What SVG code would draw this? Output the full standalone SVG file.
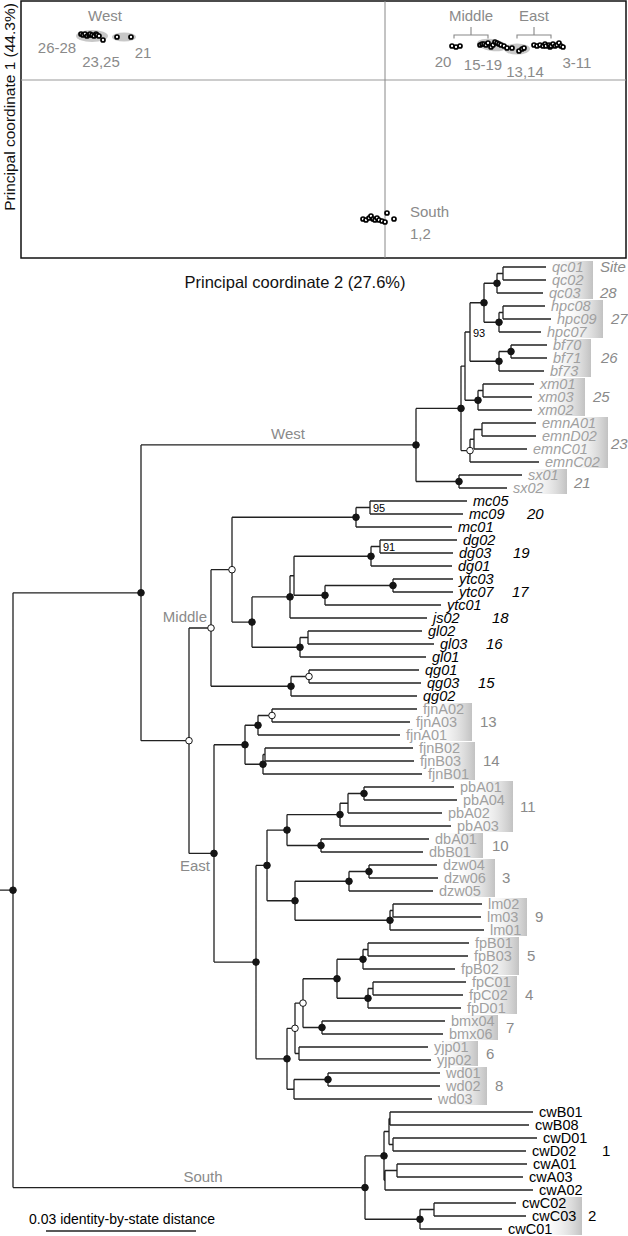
<svg xmlns="http://www.w3.org/2000/svg" width="628" height="1236" viewBox="0 0 628 1236">
<style>
text{font-family:"Liberation Sans",Arial,sans-serif}
.lbl{font-size:15px;fill:#8a8a8a}
.ax{font-size:16.5px;fill:#111}
.pt{fill:#fff;stroke:#000;stroke-width:1.7}
.blob{fill:#c8c8c8}
.br{fill:none;stroke:#888;stroke-width:1.1}
.tr{fill:none;stroke:#222;stroke-width:1.3}
.nf{fill:#151515;stroke:#151515;stroke-width:1}
.no{fill:#fff;stroke:#151515;stroke-width:1}
.lw{font-size:14.5px;fill:#a0a0a0;font-style:italic}
.lm{font-size:14.5px;fill:#000;font-style:italic}
.le{font-size:14.5px;fill:#a0a0a0}
.ls{font-size:14.5px;fill:#000}
.sw{font-size:15px;fill:#8a8a8a;font-style:italic}
.sm{font-size:15px;fill:#000;font-style:italic}
.se{font-size:15px;fill:#8a8a8a}
.ss{font-size:15px;fill:#000}
.bs{font-size:11px;fill:#000}
.cl{font-size:15px;fill:#8a8a8a}
.gb{fill:url(#gg)}
</style>
<defs>
<linearGradient id="gg" x1="0" y1="0" x2="1" y2="0">
<stop offset="0" stop-color="#fff" stop-opacity="0"/>
<stop offset="1" stop-color="#c2c2c2"/>
</linearGradient>
</defs>

<g id="pcoa">
<rect x="21" y="1" width="605" height="257" fill="none" stroke="#111" stroke-width="1.5"/>
<line x1="21" y1="80" x2="626" y2="80" stroke="#999" stroke-width="1"/>
<line x1="385" y1="1" x2="385" y2="258" stroke="#888" stroke-width="1"/>
<text class="ax" transform="translate(15,107) rotate(-90)" text-anchor="middle" style="font-size:15.5px">Principal coordinate 1 (44.3%)</text>
<text class="ax" x="295" y="288" text-anchor="middle">Principal coordinate 2 (27.6%)</text>
<g id="pc-west">
<ellipse class="blob" cx="92" cy="36" rx="16" ry="6"/>
<ellipse class="blob" cx="124" cy="37" rx="12" ry="4.5"/>
<circle class="pt" cx="81" cy="34" r="2"/><circle class="pt" cx="83" cy="35" r="2"/><circle class="pt" cx="85" cy="34" r="2"/><circle class="pt" cx="87" cy="36" r="2"/><circle class="pt" cx="89" cy="35" r="2"/><circle class="pt" cx="90" cy="34" r="2"/><circle class="pt" cx="92" cy="35" r="2"/><circle class="pt" cx="94" cy="36" r="2"/><circle class="pt" cx="96" cy="34" r="2"/><circle class="pt" cx="97" cy="35" r="2"/><circle class="pt" cx="99" cy="36" r="2"/><circle class="pt" cx="103" cy="40" r="2"/><circle class="pt" cx="117" cy="37" r="2"/><circle class="pt" cx="131" cy="37" r="2"/>
<text class="lbl" x="105" y="21" text-anchor="middle">West</text>
<text class="lbl" x="57" y="53" text-anchor="middle">26-28</text>
<text class="lbl" x="101" y="67" text-anchor="middle">23,25</text>
<text class="lbl" x="143" y="58" text-anchor="middle">21</text>
</g>
<g id="pc-east">
<ellipse class="blob" cx="492" cy="45" rx="15" ry="6" transform="rotate(8 492 45)"/>
<ellipse class="blob" cx="517" cy="49" rx="13" ry="5.5"/>
<circle class="pt" cx="452" cy="46" r="2"/><circle class="pt" cx="456" cy="47" r="2"/><circle class="pt" cx="460" cy="46" r="2"/>
<circle class="pt" cx="480" cy="45" r="2"/><circle class="pt" cx="482" cy="44" r="2"/><circle class="pt" cx="484" cy="44" r="2"/><circle class="pt" cx="486" cy="45" r="2"/><circle class="pt" cx="488" cy="43" r="2"/><circle class="pt" cx="491" cy="47" r="2"/><circle class="pt" cx="493" cy="45" r="2"/><circle class="pt" cx="495" cy="42" r="2"/><circle class="pt" cx="497" cy="43" r="2"/><circle class="pt" cx="499" cy="44" r="2"/><circle class="pt" cx="501" cy="45" r="2"/><circle class="pt" cx="504" cy="46" r="2"/>
<circle class="pt" cx="507" cy="48" r="2"/><circle class="pt" cx="512" cy="48" r="2"/><circle class="pt" cx="519" cy="51" r="2"/><circle class="pt" cx="522" cy="49" r="2"/><circle class="pt" cx="524" cy="48" r="2"/>
<circle class="pt" cx="534" cy="45" r="2"/><circle class="pt" cx="537" cy="46" r="2"/><circle class="pt" cx="540" cy="45" r="2"/><circle class="pt" cx="543" cy="46" r="2"/><circle class="pt" cx="545" cy="44" r="2"/><circle class="pt" cx="546" cy="46" r="2"/><circle class="pt" cx="549" cy="45" r="2"/><circle class="pt" cx="550" cy="47" r="2"/><circle class="pt" cx="551" cy="46" r="2"/><circle class="pt" cx="553" cy="44" r="2"/><circle class="pt" cx="555" cy="46" r="2"/><circle class="pt" cx="557" cy="45" r="2"/><circle class="pt" cx="559" cy="43" r="2"/><circle class="pt" cx="561" cy="46" r="2"/><circle class="pt" cx="563" cy="47" r="2"/>
<path class="br" d="M454 38.5V35H488V38.5M471 35V27"/>
<path class="br" d="M517 38.5V35H551V38.5M534 35V27"/>
<text class="lbl" x="471" y="21" text-anchor="middle">Middle</text>
<text class="lbl" x="534" y="21" text-anchor="middle">East</text>
<text class="lbl" x="443" y="67" text-anchor="middle">20</text>
<text class="lbl" x="483" y="70" text-anchor="middle">15-19</text>
<text class="lbl" x="525" y="77" text-anchor="middle">13,14</text>
<text class="lbl" x="577" y="68" text-anchor="middle">3-11</text>
</g>
<g id="pc-south">
<circle class="pt" cx="363" cy="219" r="2"/><circle class="pt" cx="366" cy="220" r="2"/><circle class="pt" cx="369" cy="218" r="2"/><circle class="pt" cx="371" cy="216" r="2"/><circle class="pt" cx="373" cy="219" r="2"/><circle class="pt" cx="375" cy="220" r="2"/><circle class="pt" cx="377" cy="218" r="2"/><circle class="pt" cx="379" cy="220" r="2"/><circle class="pt" cx="382" cy="221" r="2"/><circle class="pt" cx="385" cy="222" r="2"/><circle class="pt" cx="387" cy="213" r="2"/><circle class="pt" cx="394" cy="219" r="2"/>
<text class="lbl" x="410" y="217">South</text>
<text class="lbl" x="410" y="239">1,2</text>
</g>
</g>

<g id="site-boxes">
<rect class="gb" x="549" y="261" width="44" height="38"/>
<rect class="gb" x="559" y="300" width="44" height="38"/>
<rect class="gb" x="547" y="339" width="44" height="38"/>
<rect class="gb" x="541" y="378" width="44" height="38"/>
<rect class="gb" x="564" y="417" width="44" height="51"/>
<rect class="gb" x="523" y="469" width="44" height="25"/>
<rect class="gb" x="428" y="703" width="44" height="38"/>
<rect class="gb" x="431" y="742" width="44" height="38"/>
<rect class="gb" x="469" y="781" width="44" height="51"/>
<rect class="gb" x="439" y="833" width="44" height="25"/>
<rect class="gb" x="451" y="859" width="44" height="38"/>
<rect class="gb" x="483" y="898" width="44" height="38"/>
<rect class="gb" x="475" y="937" width="44" height="38"/>
<rect class="gb" x="473" y="976" width="44" height="38"/>
<rect class="gb" x="454" y="1015" width="44" height="25"/>
<rect class="gb" x="434" y="1041" width="44" height="25"/>
<rect class="gb" x="443" y="1067" width="44" height="38"/>
<rect class="gb" x="538" y="1197" width="44" height="38"/>
</g>

<g id="connectors" class="tr">
<path d="M503 267V280M503 267H546M503 280H546M497 273.5V293M497 273.5H503M497 293H543M503 306V319M503 306H545M503 319H551M499 312.5V332M499 312.5H503M499 332H541M484 283.25V322.25M484 283.25H497M484 322.25H499M511 345V358M511 345H547M511 358H547M499 351.5V371M499 351.5H511M499 371H544M470 302.75V361.25M470 302.75H484M470 361.25H499M483 384V397M483 384H534M483 397H532M478 390.5V410M478 390.5H483M478 410H532M465 332V400.25M465 332H470M465 400.25H478M482 423V436M482 423H536M482 436H536M474 429.5V449M474 429.5H482M474 449H527M470 439.25V462M470 439.25H474M470 462H539M461 366.1V450.6M461 366.1H465M461 450.6H470M459 475V488M459 475H522M459 488H507M416 408.4V481.5M416 408.4H461M416 481.5H459"/>
<path d="M370 501V514M370 501H467M370 514H463M356 507.5V527M356 507.5H370M356 527H452M380 540V553M380 540H457M380 553H453M371 546.5V566M371 546.5H380M371 566H452M393 579V592M393 579H453M393 592H453M325 585.5V605M325 585.5H393M325 605H441M294 556.25V595.25M294 556.25H371M294 595.25H325M290 575.75V618M290 575.75H294M290 618H427M308 631V644M308 631H422M308 644H434M300 637.5V657M300 637.5H308M300 657H426M252 596.9V647.25M252 596.9H290M252 647.25H300M232 517.25V622.1M232 517.25H356M232 622.1H252M309 670V683M309 670H419M309 683H421M291 676.5V696M291 676.5H309M291 696H417M211 569.7V686.25M211 569.7H232M211 686.25H291"/>
<path d="M272 709V722M272 709H417M272 722H410M258 715.5V735M258 715.5H272M258 735H400M265 748V761M265 748H413M265 761H414M263 754.5V774M263 754.5H265M263 774H422M245 725.25V764.25M245 725.25H258M245 764.25H263M364 787V800M364 787H454M364 800H457M348 793.5V813M348 793.5H364M348 813H442M340 803.25V826M340 803.25H348M340 826H451M321 839V852M321 839H429M321 852H423M287 814.6V845.5M287 814.6H340M287 845.5H321M369 865V878M369 865H437M369 878H438M349 871.5V891M349 871.5H369M349 891H433M393 904V917M393 904H482M393 917H481M390 910.5V930M390 910.5H393M390 930H484M295 881.25V920.25M295 881.25H349M295 920.25H390M267 830.05V900.75M267 830.05H287M267 900.75H295M368 943V956M368 943H469M368 956H468M363 949.5V969M363 949.5H368M363 969H455M373 982V995M373 982H466M373 995H463M368 988.5V1008M368 988.5H373M368 1008H461M337 959.25V998.25M337 959.25H363M337 998.25H368M322 1021V1034M322 1021H445M322 1034H443M303 978.75V1027.5M303 978.75H337M303 1027.5H322M299 1047V1060M299 1047H428M299 1060H431M295 1003.1V1053.5M295 1003.1H303M295 1053.5H299M328 1073V1086M328 1073H440M328 1086H440M294 1079.5V1099M294 1079.5H328M294 1099H432M287 1028.3V1089.25M287 1028.3H295M287 1089.25H294M256 865.4V1058.8M256 865.4H267M256 1058.8H287M214 744.75V962.1M214 744.75H245M214 962.1H256"/>
<path d="M390 1112V1125M390 1112H533M390 1125H529M393 1138V1151M393 1138H537M393 1151H526M389 1118.5V1144.5M389 1118.5H390M389 1144.5H393M397 1164V1177M397 1164H527M397 1177H523M385 1170.5V1190M385 1170.5H397M385 1190H533M384 1131.5V1180.25M384 1131.5H389M384 1180.25H385M434 1203V1216M434 1203H516M434 1216H526M420 1209.5V1229M420 1209.5H434M420 1229H502M365 1155.9V1219.25M365 1155.9H384M365 1219.25H420"/>
<path d="M189 628V853.4M189 628H211M189 853.4H214M141 444.95V740.7M141 444.95H416M141 740.7H189M13 592.8V1187.6M13 592.8H141M13 1187.6H365M0 890.2H13"/>
<path d="M46 1231H196"/>
</g>

<g id="inner-nodes">
<g id="n-west"><circle class="nf" cx="416" cy="444.95" r="3.3"/><circle class="nf" cx="461" cy="408.4" r="3.3"/><circle class="nf" cx="459" cy="481.5" r="3.3"/><circle class="nf" cx="497" cy="283.25" r="3.3"/><circle class="nf" cx="499" cy="322.25" r="3.3"/><circle class="nf" cx="484" cy="302.75" r="3.3"/><circle class="nf" cx="511" cy="351.5" r="3.3"/><circle class="nf" cx="499" cy="361.25" r="3.3"/><circle class="nf" cx="478" cy="400.25" r="3.3"/><circle class="no" cx="470" cy="450.6" r="3.3"/></g>
<g id="n-middle"><circle class="nf" cx="356" cy="517.25" r="3.3"/><circle class="nf" cx="371" cy="556.25" r="3.3"/><circle class="nf" cx="393" cy="585.5" r="3.3"/><circle class="nf" cx="325" cy="595.25" r="3.3"/><circle class="nf" cx="290" cy="596.9" r="3.3"/><circle class="nf" cx="300" cy="647.25" r="3.3"/><circle class="nf" cx="252" cy="622.1" r="3.3"/><circle class="nf" cx="291" cy="686.25" r="3.3"/><circle class="no" cx="232" cy="569.7" r="3.3"/><circle class="no" cx="309" cy="676.5" r="3.3"/><circle class="no" cx="211" cy="628" r="3.3"/></g>
<g id="n-east"><circle class="nf" cx="258" cy="725.25" r="3.3"/><circle class="nf" cx="263" cy="764.25" r="3.3"/><circle class="nf" cx="245" cy="744.75" r="3.3"/><circle class="nf" cx="364" cy="793.5" r="3.3"/><circle class="nf" cx="340" cy="814.6" r="3.3"/><circle class="nf" cx="321" cy="845.5" r="3.3"/><circle class="nf" cx="287" cy="830.05" r="3.3"/><circle class="nf" cx="369" cy="871.5" r="3.3"/><circle class="nf" cx="349" cy="881.25" r="3.3"/><circle class="nf" cx="390" cy="920.25" r="3.3"/><circle class="nf" cx="295" cy="900.75" r="3.3"/><circle class="nf" cx="267" cy="865.4" r="3.3"/><circle class="nf" cx="363" cy="959.25" r="3.3"/><circle class="nf" cx="368" cy="998.25" r="3.3"/><circle class="nf" cx="337" cy="978.75" r="3.3"/><circle class="nf" cx="322" cy="1027.5" r="3.3"/><circle class="nf" cx="328" cy="1079.5" r="3.3"/><circle class="nf" cx="287" cy="1058.8" r="3.3"/><circle class="nf" cx="256" cy="962.1" r="3.3"/><circle class="nf" cx="214" cy="853.4" r="3.3"/><circle class="no" cx="272" cy="715.5" r="3.3"/><circle class="no" cx="303" cy="1003.1" r="3.3"/><circle class="no" cx="295" cy="1028.3" r="3.3"/></g>
<g id="n-south"><circle class="nf" cx="384" cy="1155.9" r="3.3"/><circle class="nf" cx="420" cy="1219.25" r="3.3"/><circle class="nf" cx="365" cy="1187.6" r="3.3"/></g>
<g id="n-top"><circle class="no" cx="189" cy="740.7" r="3.3"/><circle class="nf" cx="141" cy="592.8" r="3.3"/><circle class="nf" cx="13" cy="890.2" r="3.3"/></g>
</g>

<g id="support">
<text class="bs" x="473" y="337">93</text>
<text class="bs" x="373" y="512">95</text>
<text class="bs" x="383" y="551">91</text>
</g>

<g id="clade-labels">
<text class="cl" x="288" y="439" text-anchor="middle">West</text>
<text class="cl" x="207" y="622" text-anchor="end">Middle</text>
<text class="cl" x="210" y="871" text-anchor="end">East</text>
<text class="cl" x="203" y="1182" text-anchor="middle">South</text>
</g>

<g id="leaves-west" class="lw">
<text x="552" y="272">qc01</text><text x="552" y="285">qc02</text><text x="549" y="298">qc03</text>
<text x="551" y="311">hpc08</text><text x="557" y="324">hpc09</text><text x="547" y="337">hpc07</text>
<text x="553" y="350">bf70</text><text x="553" y="363">bf71</text><text x="550" y="376">bf73</text>
<text x="540" y="389">xm01</text><text x="538" y="402">xm03</text><text x="538" y="415">xm02</text>
<text x="542" y="428">emnA01</text><text x="542" y="441">emnD02</text><text x="533" y="454">emnC01</text><text x="545" y="467">emnC02</text>
<text x="528" y="480">sx01</text><text x="513" y="493">sx02</text>
</g>
<g id="leaves-middle" class="lm">
<text x="473" y="506">mc05</text><text x="469" y="519">mc09</text><text x="458" y="532">mc01</text>
<text x="463" y="545">dg02</text><text x="459" y="558">dg03</text><text x="458" y="571">dg01</text>
<text x="459" y="584">ytc03</text><text x="459" y="597">ytc07</text><text x="447" y="610">ytc01</text>
<text x="433" y="623">js02</text>
<text x="428" y="636">gl02</text><text x="440" y="649">gl03</text><text x="432" y="662">gl01</text>
<text x="425" y="675">qg01</text><text x="427" y="688">qg03</text><text x="423" y="701">qg02</text>
</g>
<g id="leaves-east" class="le">
<text x="423" y="714">fjnA02</text><text x="416" y="727">fjnA03</text><text x="406" y="740">fjnA01</text>
<text x="419" y="753">fjnB02</text><text x="420" y="766">fjnB03</text><text x="428" y="779">fjnB01</text>
<text x="460" y="792">pbA01</text><text x="463" y="805">pbA04</text><text x="448" y="818">pbA02</text><text x="457" y="831">pbA03</text>
<text x="435" y="844">dbA01</text><text x="429" y="857">dbB01</text>
<text x="443" y="870">dzw04</text><text x="444" y="883">dzw06</text><text x="439" y="896">dzw05</text>
<text x="488" y="909">lm02</text><text x="487" y="922">lm03</text><text x="490" y="935">lm01</text>
<text x="475" y="948">fpB01</text><text x="474" y="961">fpB03</text><text x="461" y="974">fpB02</text>
<text x="472" y="987">fpC01</text><text x="469" y="1000">fpC02</text><text x="467" y="1013">fpD01</text>
<text x="451" y="1026">bmx04</text><text x="449" y="1039">bmx06</text>
<text x="434" y="1052">yjp01</text><text x="437" y="1065">yjp02</text>
<text x="446" y="1078">wd01</text><text x="446" y="1091">wd02</text><text x="438" y="1104">wd03</text>
</g>
<g id="leaves-south" class="ls">
<text x="539" y="1117">cwB01</text><text x="535" y="1130">cwB08</text><text x="543" y="1143">cwD01</text><text x="532" y="1156">cwD02</text>
<text x="533" y="1169">cwA01</text><text x="529" y="1182">cwA03</text><text x="539" y="1195">cwA02</text>
<text x="522" y="1208">cwC02</text><text x="532" y="1221">cwC03</text><text x="508" y="1234">cwC01</text>
</g>

<g id="sites">
<text class="sw" x="600" y="272">Site</text>
<text class="sw" x="600" y="298">28</text>
<text class="sw" x="611" y="324">27</text>
<text class="sw" x="601" y="363">26</text>
<text class="sw" x="593" y="402">25</text>
<text class="sw" x="611" y="449">23</text>
<text class="sw" x="574" y="488">21</text>
<text class="sm" x="527" y="519">20</text>
<text class="sm" x="513" y="558">19</text>
<text class="sm" x="512" y="597">17</text>
<text class="sm" x="492" y="623">18</text>
<text class="sm" x="486" y="649">16</text>
<text class="sm" x="478" y="688">15</text>
<text class="se" x="480" y="727">13</text>
<text class="se" x="483" y="766">14</text>
<text class="se" x="520" y="812">11</text>
<text class="se" x="492" y="851">10</text>
<text class="se" x="502" y="883">3</text>
<text class="se" x="535" y="922">9</text>
<text class="se" x="527" y="961">5</text>
<text class="se" x="525" y="1000">4</text>
<text class="se" x="506" y="1033">7</text>
<text class="se" x="486" y="1059">6</text>
<text class="se" x="495" y="1091">8</text>
<text class="ss" x="602" y="1156">1</text>
<text class="ss" x="588" y="1221">2</text>
</g>

<g id="scale">
<text x="29" y="1224" font-size="14" fill="#000">0.03 identity-by-state distance</text>
</g>
</svg>
